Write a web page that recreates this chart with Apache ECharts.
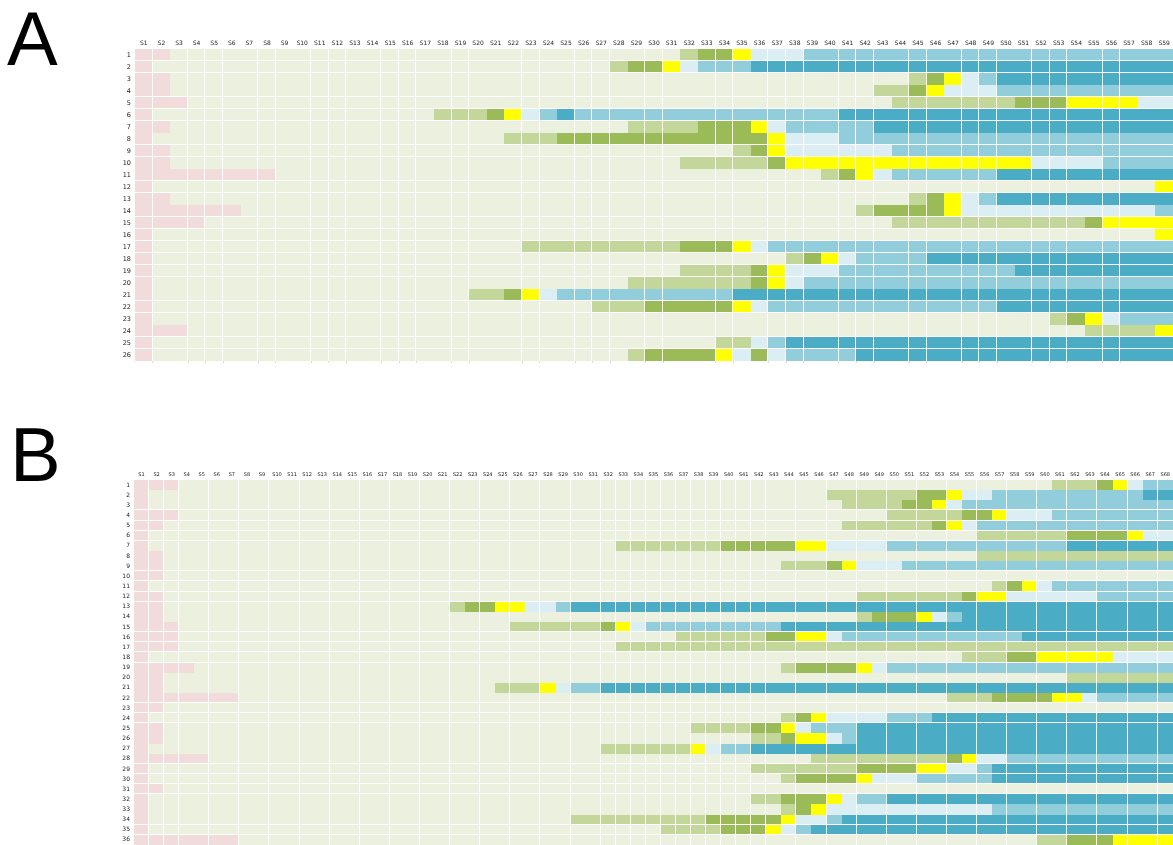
<!DOCTYPE html>
<html>
<head>
<meta charset="utf-8">
<style>
  html, body { margin: 0; padding: 0; background: #fff; overflow: hidden; }
  #container { width: 1173px; height: 845px; }
</style>
<script src="https://cdn.jsdelivr.net/npm/echarts@6/dist/echarts.min.js"></script>
</head>
<body>
<div id="container"></div>
<script>
// stage colours, Excel palette
const stageColors = ['#F2DCDB', '#EBF1DE', '#C4D79B', '#9BBB59', '#FFFF00', '#DAEEF3', '#92CDDC', '#4BACC6'];

// every row is a list of [stage, last column of that stage]
const rowsA = [
    [[0, 2], [1, 31], [2, 32], [3, 34], [4, 35], [5, 38], [6, 59]],
    [[0, 1], [1, 27], [2, 28], [3, 30], [4, 31], [5, 32], [6, 35], [7, 59]],
    [[0, 2], [1, 44], [2, 45], [3, 46], [4, 47], [5, 48], [6, 49], [7, 59]],
    [[0, 2], [1, 42], [2, 44], [3, 45], [4, 46], [5, 49], [6, 59]],
    [[0, 3], [1, 43], [2, 50], [3, 53], [4, 57], [5, 59]],
    [[0, 1], [1, 17], [2, 20], [3, 21], [4, 22], [5, 23], [6, 24], [7, 25], [6, 40], [7, 59]],
    [[0, 2], [1, 28], [2, 32], [3, 35], [4, 36], [5, 37], [6, 42], [7, 59]],
    [[0, 1], [1, 21], [2, 24], [3, 36], [4, 37], [5, 40], [6, 59]],
    [[0, 2], [1, 34], [2, 35], [3, 36], [4, 37], [5, 43], [6, 59]],
    [[0, 2], [1, 31], [2, 36], [3, 37], [4, 51], [5, 55], [6, 59]],
    [[0, 8], [1, 39], [2, 40], [3, 41], [4, 42], [5, 43], [6, 49], [7, 59]],
    [[0, 1], [1, 58], [4, 59]],
    [[0, 2], [1, 44], [2, 45], [3, 46], [4, 47], [5, 48], [6, 49], [7, 59]],
    [[0, 6], [1, 41], [2, 42], [3, 46], [4, 47], [5, 58], [6, 59]],
    [[0, 4], [1, 43], [2, 54], [3, 55], [4, 59]],
    [[0, 1], [1, 58], [4, 59]],
    [[0, 1], [1, 22], [2, 31], [3, 34], [4, 35], [5, 36], [6, 59]],
    [[0, 1], [1, 37], [2, 38], [3, 39], [4, 40], [5, 41], [6, 45], [7, 59]],
    [[0, 1], [1, 31], [2, 35], [3, 36], [4, 37], [5, 40], [6, 50], [7, 59]],
    [[0, 1], [1, 28], [2, 35], [3, 36], [4, 37], [5, 38], [6, 59]],
    [[0, 1], [1, 19], [2, 21], [3, 22], [4, 23], [5, 24], [6, 34], [7, 59]],
    [[0, 1], [1, 26], [2, 29], [3, 34], [4, 35], [5, 36], [6, 49], [7, 59]],
    [[0, 1], [1, 52], [2, 53], [3, 54], [4, 55], [5, 56], [6, 59]],
    [[0, 3], [1, 54], [2, 58], [4, 59]],
    [[0, 1], [1, 33], [2, 35], [5, 36], [6, 37], [7, 59]],
    [[0, 1], [1, 28], [2, 29], [3, 33], [4, 34], [5, 35], [3, 36], [5, 37], [6, 41], [7, 59]]
];

const rowsB = [
    [[0, 3], [1, 61], [2, 64], [3, 65], [4, 66], [5, 67], [6, 69]],
    [[0, 1], [1, 46], [2, 52], [3, 54], [4, 55], [5, 57], [6, 67], [7, 69]],
    [[0, 1], [1, 47], [2, 51], [3, 53], [4, 54], [5, 55], [6, 69]],
    [[0, 3], [1, 50], [2, 55], [3, 57], [4, 58], [5, 61], [6, 69]],
    [[0, 2], [1, 47], [2, 53], [3, 54], [4, 55], [5, 56], [6, 69]],
    [[0, 1], [1, 56], [2, 62], [3, 66], [4, 67], [5, 69]],
    [[0, 1], [1, 32], [2, 39], [3, 44], [4, 46], [5, 50], [6, 62], [7, 69]],
    [[0, 2], [1, 56], [2, 69]],
    [[0, 2], [1, 43], [2, 46], [3, 47], [4, 48], [5, 51], [6, 69]],
    [[0, 2], [1, 69]],
    [[0, 1], [1, 57], [2, 58], [3, 59], [4, 60], [5, 61], [6, 69]],
    [[0, 2], [1, 48], [2, 55], [3, 56], [4, 58], [5, 64], [6, 69]],
    [[0, 2], [1, 21], [2, 22], [3, 24], [4, 26], [5, 28], [6, 29], [7, 69]],
    [[0, 2], [1, 48], [2, 49], [3, 52], [4, 53], [5, 54], [6, 55], [7, 69]],
    [[0, 3], [1, 25], [2, 31], [3, 32], [4, 33], [5, 34], [6, 43], [7, 69]],
    [[0, 3], [1, 36], [2, 42], [3, 44], [4, 46], [5, 47], [6, 59], [7, 69]],
    [[0, 3], [1, 32], [2, 69]],
    [[0, 1], [1, 55], [2, 58], [3, 60], [4, 65], [5, 69]],
    [[0, 4], [1, 43], [2, 44], [3, 48], [4, 49], [5, 50], [6, 69]],
    [[0, 2], [1, 62], [2, 69]],
    [[0, 2], [1, 24], [2, 27], [4, 28], [5, 29], [6, 31], [7, 69]],
    [[0, 7], [1, 54], [2, 57], [3, 61], [4, 63], [5, 64], [6, 69]],
    [[0, 2], [1, 69]],
    [[0, 1], [1, 43], [2, 44], [3, 45], [4, 46], [5, 50], [6, 53], [7, 69]],
    [[0, 2], [1, 37], [2, 41], [3, 43], [4, 44], [5, 45], [6, 48], [7, 69]],
    [[0, 2], [1, 41], [2, 43], [3, 44], [4, 46], [5, 47], [6, 48], [7, 69]],
    [[0, 1], [1, 31], [2, 37], [4, 38], [5, 39], [6, 41], [7, 69]],
    [[0, 5], [1, 45], [2, 54], [3, 55], [4, 56], [5, 58], [6, 69]],
    [[0, 1], [1, 41], [2, 48], [3, 52], [4, 54], [5, 56], [6, 57], [7, 69]],
    [[0, 1], [1, 43], [2, 44], [3, 48], [4, 49], [5, 52], [6, 57], [7, 69]],
    [[0, 2], [1, 69]],
    [[0, 1], [1, 41], [2, 43], [3, 46], [4, 47], [5, 48], [6, 50], [7, 69]],
    [[0, 1], [1, 43], [2, 44], [3, 45], [4, 46], [5, 57], [6, 69]],
    [[0, 1], [1, 29], [2, 38], [3, 43], [4, 44], [5, 46], [6, 47], [7, 69]],
    [[0, 1], [1, 35], [2, 39], [3, 42], [4, 43], [5, 44], [6, 45], [7, 69]],
    [[0, 7], [1, 60], [2, 62], [3, 65], [4, 69]]
];

// white lines in the source image only fall after these columns / rows
const colLinesA = [1, 3, 4, 5, 7, 8, 10, 11, 12, 14, 15, 16, 18, 19, 22, 23, 25, 26, 27, 29, 30, 33, 34, 36, 37, 38, 40, 41, 42, 44, 45, 47, 48, 49, 51, 52, 53, 55, 56];
const rowLinesA = [1, 2, 4, 5, 6, 8, 9, 11, 12, 14, 15, 16, 17, 18, 19, 21, 22, 24, 25];
const colLinesB = [1, 2, 3, 5, 7, 9, 11, 13, 15, 17, 19, 21, 23, 25, 27, 29, 31, 32, 33, 34, 35, 36, 37, 38, 39, 40, 41, 42, 44, 46, 48, 50, 52, 54, 56, 58, 60, 62, 64, 66, 68];
const rowLinesB = [3, 4, 5, 6, 9, 10, 11, 12, 15, 16, 17, 18, 22, 23, 24, 28, 29, 30, 31, 34, 35];

// tick labels
const colLabelsA = [];
for (let i = 1; i <= 59; i++) colLabelsA.push('S' + i);
const colLabelsB = [];
for (let i = 1; i <= 68; i++) {
    colLabelsB.push('S' + i);
    if (i === 49) colLabelsB.push('S' + i); // S49 sits twice in the header
}
const rowLabelsA = rowsA.map((r, i) => String(i + 1));
const rowLabelsB = rowsB.map((r, i) => String(i + 1));

function expand(rows) {
    let cells = [];
    rows.forEach((runs, rowIdx) => {
        let col = 0;
        runs.forEach(([stage, last]) => {
            for (; col < last; col++) cells.push([col, rowIdx, stage]);
        });
    });
    return cells;
}

function cellRenderer(colLines, rowLines) {
    return function (params, api) {
        const col = api.value(0), row = api.value(1);
        const c = api.coord([col, row]);
        const s = api.size([1, 1]);
        const x0 = Math.round(c[0] - s[0] / 2);
        const x1 = Math.round(c[0] + s[0] / 2) - (colLines.includes(col + 1) ? 1 : 0);
        const y0 = Math.round(c[1] - s[1] / 2);
        const y1 = Math.round(c[1] + s[1] / 2) - (rowLines.includes(row + 1) ? 1 : 0);
        return {
            type: 'rect',
            shape: { x: x0, y: y0, width: x1 - x0, height: y1 - y0 },
            style: { fill: stageColors[api.value(2)] }
        };
    };
}

let dom = document.getElementById('container');
let myChart = echarts.init(dom);

function xAxis(idx, labels, size) {
    return {
        gridIndex: idx, type: 'category', position: 'top', data: labels,
        axisLine: { show: false }, axisTick: { show: false }, splitLine: { show: false },
        axisLabel: { interval: 0, fontSize: size, color: '#222', margin: 3, fontFamily: 'DejaVu Sans' }
    };
}
function yAxis(idx, labels, size) {
    return {
        gridIndex: idx, type: 'category', inverse: true, data: labels,
        axisLine: { show: false }, axisTick: { show: false }, splitLine: { show: false },
        axisLabel: { interval: 0, fontSize: size, color: '#222', margin: 4, fontFamily: 'DejaVu Sans' }
    };
}

myChart.setOption({
    backgroundColor: '#fff',
    animation: false,
    title: [
        { text: 'A', left: 2, top: 1, textStyle: { fontFamily: 'Liberation Sans', fontWeight: 'normal', fontSize: 76, color: '#000' } },
        { text: 'B', left: 5, top: 417, textStyle: { fontFamily: 'Liberation Sans', fontWeight: 'normal', fontSize: 76, color: '#000' } }
    ],
    grid: [
        { left: 135, top: 49, width: 1038, height: 312 },
        { left: 134, top: 480, width: 1039, height: 368 }
    ],
    xAxis: [
        xAxis(0, colLabelsA, 6),
        xAxis(1, colLabelsB, 5),
        // faint ticks under panel A
        {
            gridIndex: 0, type: 'category', position: 'bottom', data: colLabelsA,
            axisLine: { show: false }, axisLabel: { show: false }, splitLine: { show: false },
            axisTick: { show: true, length: 2, interval: (i) => colLinesA.includes(i), lineStyle: { color: '#d9d9d9', width: 1 } }
        }
    ],
    yAxis: [yAxis(0, rowLabelsA, 6.5), yAxis(1, rowLabelsB, 6)],
    series: [
        {
            type: 'custom', xAxisIndex: 0, yAxisIndex: 0, silent: true,
            encode: { x: 0, y: 1 },
            renderItem: cellRenderer(colLinesA, rowLinesA),
            data: expand(rowsA)
        },
        {
            type: 'custom', xAxisIndex: 1, yAxisIndex: 1, silent: true,
            encode: { x: 0, y: 1 },
            renderItem: cellRenderer(colLinesB, rowLinesB),
            data: expand(rowsB)
        }
    ]
});
</script>
</body>
</html>
